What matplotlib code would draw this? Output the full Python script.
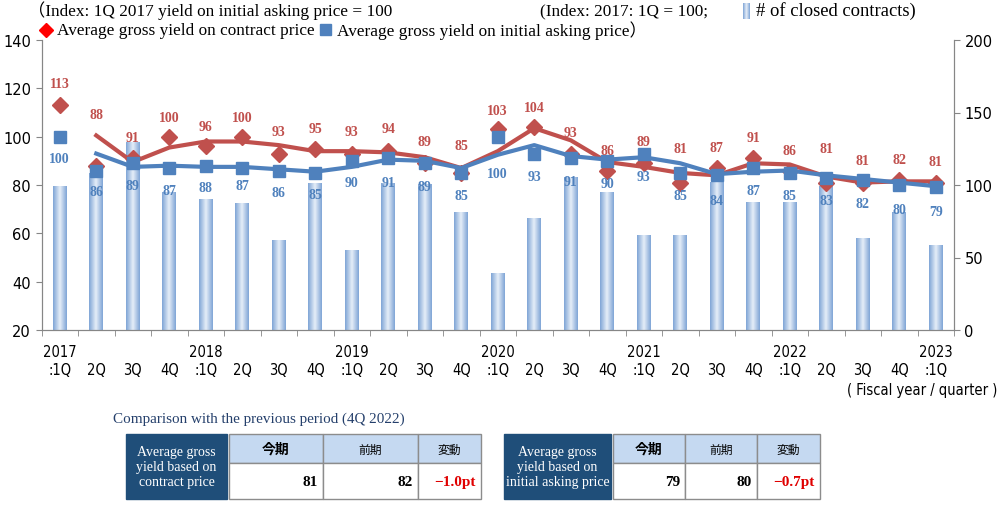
import numpy as np
import matplotlib.pyplot as plt
from matplotlib.patches import Rectangle
from matplotlib.colors import LinearSegmentedColormap

# --- data ---
quarters = ['2017\n:1Q', '\n2Q', '\n3Q', '\n4Q',
            '2018\n:1Q', '\n2Q', '\n3Q', '\n4Q',
            '2019\n:1Q', '\n2Q', '\n3Q', '\n4Q',
            '2020\n:1Q', '\n2Q', '\n3Q', '\n4Q',
            '2021\n:1Q', '\n2Q', '\n3Q', '\n4Q',
            '2022\n:1Q', '\n2Q', '\n3Q', '\n4Q',
            '2023\n:1Q']
contract_yield = [113, 88, 91, 100, 96, 100, 93, 95, 93, 94, 89, 85, 103,
                  104, 93, 86, 89, 81, 87, 91, 86, 81, 81, 82, 81]
asking_yield = [100, 86, 89, 87, 88, 87, 86, 85, 90, 91, 89, 85, 100,
                93, 91, 90, 93, 85, 84, 87, 85, 83, 82, 80, 79]
# trend lines (2-quarter moving average as drawn in the chart)
contract_trend = [np.nan, 100.5, 89.5, 95.5, 98, 98, 96.5, 94, 94, 93.5, 91.5, 87, 94,
                  103.5, 98.5, 89.5, 87.5, 85, 84, 89, 88.5, 83.5, 81, 81.5, 81.5]
asking_trend = [np.nan, 93, 87.5, 88, 87.5, 87.5, 86.5, 85.5, 87.5, 90.5, 90, 87, 92.5,
                96.5, 92, 90.5, 91.5, 89, 84.5, 85.5, 86, 84, 82.5, 81, 79.5]
closed_contracts = [99, 108, 129, 95, 90, 87, 62, 101, 55, 101, 100, 81, 39,
                    77, 105, 95, 65, 65, 102, 88, 88, 99, 63, 81, 58]

table_headers = ['今期', '前期', '変動']
contract_table = ['81', '82', '−1.0pt']
asking_table = ['79', '80', '−0.7pt']

# label placement (y in left-axis units)
contract_label_pos = [122, 109, 99.5, 108, 104.3, 108, 102, 103.2, 102, 103.2, 98, 96.3, 111,
                      112.2, 101.8, 94.4, 98, 94.9, 95.5, 99.5, 94.4, 95.3, 90.1, 90.5, 89.8]
asking_label_pos = [90.9, 77.2, 79.9, 77.7, 78.8, 79.8, 76.8, 76.1, 80.9, 81.2, 79.5, 75.7, 84.7,
                    83.4, 81.3, 80.6, 83.6, 75.7, 73.7, 77.7, 75.7, 73.7, 72.4, 69.9, 69.2]

red = '#c0504d'
blue = '#4f81bd'
serif = ['Liberation Serif', 'Noto Sans CJK JP']

fig = plt.figure(figsize=(10.02, 5.06), dpi=100)

# overlay in pixel coordinates for titles / tables
ov = fig.add_axes([0, 0, 1, 1])
ov.set_xlim(0, 1002)
ov.set_ylim(506, 0)
ov.axis('off')

ax = fig.add_axes([41.5 / 1002, 1 - 331 / 506, 912.5 / 1002, 290 / 506])
ax2 = ax.twinx()
ax.set_zorder(ax2.get_zorder() + 1)
ax.patch.set_visible(False)

x = np.arange(len(quarters))

# bars with cylinder-like gradient
bar_cmap = LinearSegmentedColormap.from_list('bar', ['#7fa5d6', '#e6eef8', '#7fa5d6'])
grad = np.linspace(0, 1, 64).reshape(1, -1)
w = 0.38
for xi, h in zip(x, closed_contracts):
    ax2.imshow(grad, extent=(xi - w / 2, xi + w / 2, 0, h), aspect='auto',
               cmap=bar_cmap, zorder=1)
ax2.set_ylim(0, 200)
ax2.set_yticks([0, 50, 100, 150, 200])

ax.plot(x, contract_trend, color=red, lw=3, zorder=3)
ax.plot(x, contract_yield, 'D', color=red, ms=8, zorder=4)
ax.plot(x, asking_trend, color=blue, lw=3, zorder=5)
ax.plot(x, asking_yield, 's', color=blue, ms=8, zorder=6)

for xi, v, ly in zip(x, contract_yield, contract_label_pos):
    ax.text(xi, ly, str(v), color=red, ha='center', va='center', fontsize=10,
            fontweight='bold', family=serif, zorder=7)
for xi, v, ly in zip(x, asking_yield, asking_label_pos):
    ax.text(xi, ly, str(v), color=blue, ha='center', va='center', fontsize=10,
            fontweight='bold', family=serif, zorder=7)

ax.set_xlim(-0.5, 24.5)
ax2.set_xlim(-0.5, 24.5)
ax.set_ylim(20, 140)
ax.set_yticks(range(20, 141, 20))
ax.set_xticks(x)
ax.set_xticklabels(quarters, family='DejaVu Sans', fontstretch='condensed',
                   fontsize=10.5, linespacing=1.25)
ax.set_xticks(np.arange(-0.5, 25, 1), minor=True)
ax.tick_params(axis='x', which='major', length=0, pad=10)
ax.tick_params(axis='x', which='minor', length=4, color='#868686')
ax.tick_params(axis='y', length=4, color='#868686', labelsize=10.5)
ax2.tick_params(axis='y', length=4, color='#868686', labelsize=10.5)
for a in (ax, ax2):
    a.spines['top'].set_visible(False)
    for s in ('left', 'right', 'bottom'):
        a.spines[s].set_color('#868686')

# header texts
fs = 12.4
ov.text(28, 11, '（Index: 1Q 2017 yield on initial asking price = 100', family=serif,
        fontsize=fs, va='center', ha='left')
ov.text(540, 11, '(Index: 2017: 1Q = 100;', family=serif, fontsize=fs, va='center', ha='left')
ov.imshow(grad, extent=(743, 750, 20, 4), aspect='auto', cmap=bar_cmap, zorder=2)
ov.text(756, 11, '# of closed contracts)', family=serif, fontsize=13.4, va='center', ha='left')
ov.plot([46], [31], 'D', color='#ff0000', ms=7)
ov.text(57, 31, 'Average gross yield on contract price', family=serif, fontsize=fs,
        va='center', ha='left')
ov.add_patch(Rectangle((320, 25), 11, 11, color=blue))
ov.text(337, 31, 'Average gross yield on initial asking price）', family=serif, fontsize=fs,
        va='center', ha='left')
ov.set_xlim(0, 1002)
ov.set_ylim(506, 0)

ov.text(997, 391, '( Fiscal year / quarter )', family='DejaVu Sans', fontstretch='condensed',
        fontsize=10.5, va='center', ha='right')

ov.text(113, 419, 'Comparison with the previous period (4Q 2022)', family=serif,
        fontsize=10.9, color='#243f6b', va='center', ha='left')


def draw_table(x0, x_head, cols, title, vals):
    ov.add_patch(Rectangle((x0, 435), x_head - 2 - x0, 65, color='#1f4e79'))
    ov.text((x0 + x_head - 2) / 2, 468, title, color='white', family=serif, fontsize=10,
            ha='center', va='center', linespacing=1.2)
    for i in range(3):
        l, r = cols[i], cols[i + 1]
        ov.add_patch(Rectangle((l, 435), r - l, 29, facecolor='#c5d9f1',
                               edgecolor='#8c8c8c', lw=1))
        ov.add_patch(Rectangle((l, 464), r - l, 36, facecolor='white',
                               edgecolor='#8c8c8c', lw=1))
        ov.text((l + r) / 2, 450, table_headers[i], family=['Noto Sans CJK JP'],
                fontsize=10 if i == 0 else 8.5, fontweight='bold' if i == 0 else 'normal',
                ha='center', va='center')
        ov.text(r - 5, 483, vals[i], family=serif, fontsize=11, fontweight='bold',
                color='#e00000' if i == 2 else 'black', ha='right', va='center')


draw_table(126, 229, [229, 323, 418, 481],
           'Average gross\nyield based on\ncontract price', contract_table)
draw_table(504, 613, [613, 685, 757, 820],
           'Average gross\nyield based on\ninitial asking price', asking_table)

fig.savefig('out.png', dpi=100)
